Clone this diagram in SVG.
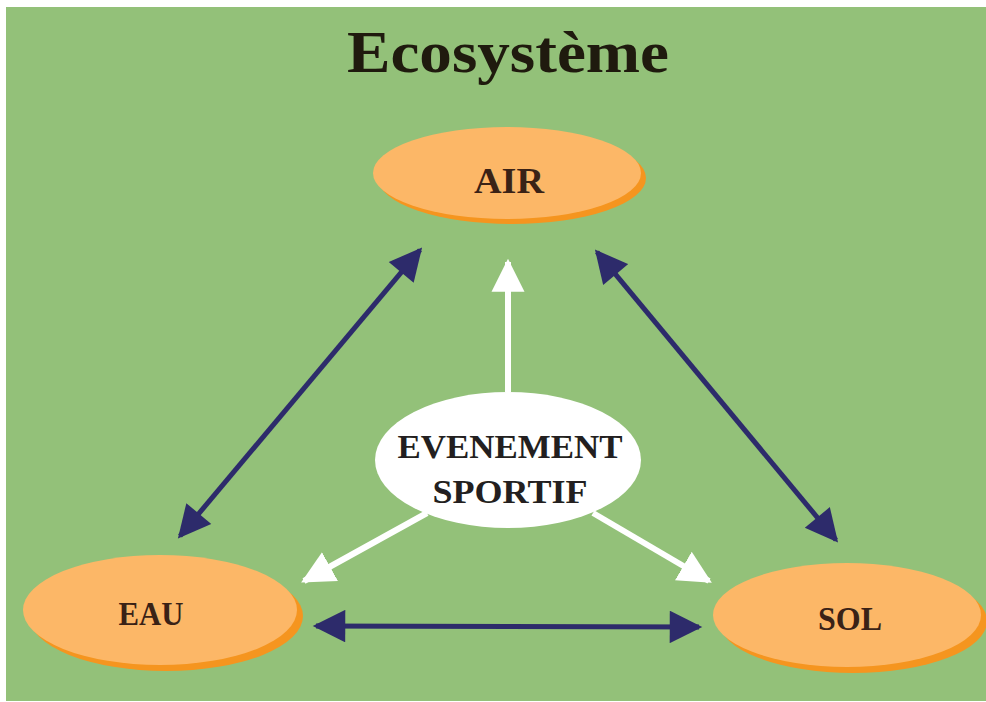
<svg xmlns="http://www.w3.org/2000/svg" width="986" height="702" viewBox="0 0 986 702">
<style>
.lbl{font-family:"Liberation Serif","Times New Roman",serif;font-weight:bold;fill:#3a2216;text-anchor:middle}
.shadow{fill:#f5951f}
.orange{fill:#fcb767}
.navy{stroke:#2d2b6b;stroke-width:5;fill:none}
.white{stroke:#ffffff;stroke-width:6;fill:none}
</style>
<defs>
<marker id="nv" viewBox="0 0 10 10" refX="9" refY="5" markerWidth="7" markerHeight="6.5" markerUnits="strokeWidth" orient="auto-start-reverse">
<path d="M0,0 L10,5 L0,10 Z" fill="#2d2b6b"/>
</marker>
<marker id="wh" viewBox="0 0 10 10" refX="9" refY="5" markerWidth="5.5" markerHeight="6" markerUnits="strokeWidth" orient="auto">
<path d="M0,0 L10,5 L0,10 Z" fill="#ffffff"/>
</marker>
</defs>
<rect x="0" y="0" width="986" height="702" fill="#ffffff"/>
<rect x="6" y="7" width="980" height="694" fill="#93c179"/>
<text x="508" y="72" font-family="Liberation Serif,'Times New Roman',serif" font-weight="bold" font-size="60" fill="#1f1a0e" text-anchor="middle" textLength="322" lengthAdjust="spacingAndGlyphs">Ecosystème</text>
<g id="connectors">
<line class="navy" x1="180" y1="536" x2="420" y2="250" marker-start="url(#nv)" marker-end="url(#nv)"/>
<line class="navy" x1="597" y1="252" x2="836" y2="540" marker-start="url(#nv)" marker-end="url(#nv)"/>
<line class="navy" x1="316" y1="626" x2="699" y2="627" marker-start="url(#nv)" marker-end="url(#nv)"/>
<line class="white" x1="508" y1="392" x2="508" y2="262" marker-end="url(#wh)"/>
<line class="white" x1="427" y1="513" x2="304" y2="581" marker-end="url(#wh)"/>
<line class="white" x1="593" y1="513" x2="709" y2="581" marker-end="url(#wh)"/>
</g>
<g id="air">
<ellipse class="shadow" cx="512" cy="178" rx="134" ry="46"/>
<ellipse class="orange" cx="507" cy="173" rx="134" ry="46"/>
<text class="lbl" x="509" y="193" font-size="35" textLength="70" lengthAdjust="spacingAndGlyphs">AIR</text>
</g>
<g id="eau">
<ellipse class="shadow" cx="166" cy="616" rx="137" ry="55"/>
<ellipse class="orange" cx="160" cy="610" rx="137" ry="55"/>
<text class="lbl" x="151" y="625" font-size="33" textLength="65" lengthAdjust="spacingAndGlyphs">EAU</text>
</g>
<g id="sol">
<ellipse class="shadow" cx="853" cy="621" rx="134" ry="52"/>
<ellipse class="orange" cx="847" cy="615" rx="134" ry="52"/>
<text class="lbl" x="850" y="630" font-size="34" textLength="64" lengthAdjust="spacingAndGlyphs">SOL</text>
</g>
<g id="evenement">
<ellipse cx="508" cy="460" rx="133" ry="68" fill="#ffffff"/>
<text class="lbl" x="510" y="458" font-size="34" style="fill:#231f20" textLength="225" lengthAdjust="spacingAndGlyphs">EVENEMENT</text>
<text class="lbl" x="510" y="503" font-size="34" style="fill:#231f20" textLength="155" lengthAdjust="spacingAndGlyphs">SPORTIF</text>
</g>
</svg>
